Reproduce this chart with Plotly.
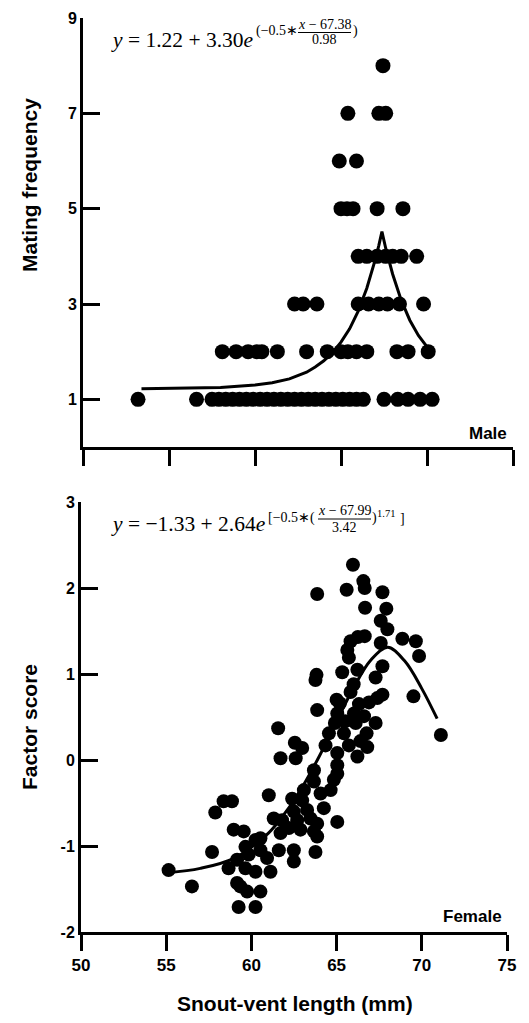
import plotly.graph_objects as go

W, H = 529, 1023
OFF = 8  # default page body margin

# ---------------- data: males (top panel) ----------------
male_svl = [
    67.44,
    65.4, 67.2, 67.6,
    64.9, 65.9,
    65.0, 65.35, 65.7, 67.1, 68.6,
    66.0, 66.5, 67.1, 67.6, 68.0, 68.5, 69.4,
    62.3, 62.8, 63.6, 66.0, 66.6, 67.2, 67.7, 68.4, 69.8,
    58.1, 58.9, 59.6, 60.1, 60.4, 61.3, 63.0, 64.2, 65.0, 65.4, 65.9, 66.5, 68.25, 68.9, 70.07,
    53.2, 56.6, 57.5, 57.9, 58.3, 58.7, 59.1, 59.5, 59.9, 60.3, 60.7, 61.1, 61.5, 61.9,
    62.3, 62.7, 63.1, 63.5, 63.9, 64.3, 64.7, 65.1, 65.5, 65.9, 66.3, 67.5, 68.3, 68.9, 69.6, 70.3,
]
male_freq = (
    [8] * 1 + [7] * 3 + [6] * 2 + [5] * 5 + [4] * 7 + [3] * 9 + [2] * 15 + [1] * 30
)

male_fit_x = [53.4, 56.0, 58.0, 60.0, 61.0, 62.0, 63.0, 63.5, 64.0, 64.5, 65.0, 65.5, 66.0, 66.5,
              66.75, 67.0, 67.2, 67.38, 67.6, 68.0, 68.5, 69.0, 69.5, 70.3]
male_fit_y = [1.22, 1.23, 1.25, 1.30, 1.35, 1.43, 1.57, 1.68, 1.81, 1.98, 2.20, 2.48, 2.85, 3.33,
              3.61, 3.94, 4.23, 4.52, 4.17, 3.63, 3.08, 2.66, 2.34, 1.96]

# ---------------- data: females (bottom panel) ----------------
female_svl = [
    65.96, 63.86, 65.59, 66.57, 66.65, 67.69, 66.67, 67.92, 67.59, 67.98,
    66.65, 66.25, 65.82, 65.63, 65.72, 67.59, 68.86, 69.65, 69.84, 67.69,
    65.33, 66.22, 67.29, 63.82, 63.76, 65.82, 67.69, 67.39, 69.51, 63.86,
    65.19, 66.31, 66.90, 65.04, 66.02, 66.61, 67.29, 64.90, 66.12, 71.12,
    61.57, 62.55, 62.98, 64.55, 65.43, 66.76, 64.35, 65.72, 66.80, 61.71,
    65.04, 66.22, 66.40, 65.50, 65.00, 66.00, 62.60,
    63.67, 65.04, 65.04, 63.67, 64.84, 64.65, 64.06, 63.08, 62.39, 62.98,
    61.02, 64.25, 63.27, 62.49, 61.31, 61.80, 63.47, 63.86, 62.69, 62.20,
    65.04, 62.88, 63.67, 61.71, 63.86, 58.37, 58.86, 57.88, 58.96, 59.55,
    60.24, 60.53, 59.65, 60.92, 60.53, 61.61, 62.49, 62.49, 63.76, 57.69,
    58.66, 59.65, 60.24, 61.12, 59.16, 59.75, 59.35, 60.53, 59.16, 59.84,
    59.25, 60.24, 55.14, 56.51,
]
female_score = [
    2.27, 1.93, 1.98, 2.08, 2.00, 1.95, 1.77, 1.76, 1.62, 1.52,
    1.44, 1.43, 1.38, 1.28, 1.19, 1.36, 1.41, 1.38, 1.21, 1.09,
    1.02, 1.05, 0.96, 0.99, 0.93, 0.79, 0.76, 0.72, 0.74, 0.58,
    0.66, 0.65, 0.67, 0.54, 0.54, 0.51, 0.43, 0.43, 0.43, 0.29,
    0.37, 0.20, 0.14, 0.31, 0.31, 0.31, 0.17, 0.17, 0.15, 0.02,
    0.08, 0.04, 0.22, 0.45, 0.70, 0.88, 0.02,
    -0.12, -0.06, -0.16, -0.25, -0.23, -0.35, -0.39, -0.35, -0.45, -0.47,
    -0.41, -0.56, -0.58, -0.60, -0.68, -0.70, -0.68, -0.74, -0.70, -0.79,
    -0.72, -0.81, -0.83, -0.85, -0.89, -0.48, -0.48, -0.61, -0.81, -0.83,
    -0.93, -0.91, -1.01, -1.14, -1.05, -1.05, -1.05, -1.18, -1.07, -1.07,
    -1.26, -1.26, -1.30, -1.30, -1.43, -1.53, -1.47, -1.53, -1.16, -1.10,
    -1.71, -1.71, -1.28, -1.47,
]

female_fit_x = [55.1, 57.0, 59.0, 61.0, 62.0, 63.0, 64.0, 65.0, 66.0, 67.0, 68.0, 69.0, 70.0, 70.9]
female_fit_y = [-1.31, -1.26, -1.14, -0.85, -0.61, -0.31, 0.05, 0.45, 0.84, 1.16, 1.31, 1.15, 0.83, 0.48]

x_ticks = [50, 55, 60, 65, 70, 75]
male_y_ticks = [1, 3, 5, 7, 9]
female_y_ticks = [-2, -1, 0, 1, 2, 3]
female_y_text = ["-2", "-1", "0", "1", "2", "3"]


def px(x):
    return (x - OFF) / W


def py(y):
    return 1 - (y - OFF) / H


fig = go.Figure()

fig.add_trace(go.Scatter(x=male_svl, y=male_freq, mode="markers", xaxis="x", yaxis="y",
                         marker=dict(color="black", size=15, line=dict(width=0)), showlegend=False))
fig.add_trace(go.Scatter(x=male_fit_x, y=male_fit_y, mode="lines", xaxis="x", yaxis="y",
                         line=dict(color="black", width=3), showlegend=False))
fig.add_trace(go.Scatter(x=female_svl, y=female_score, mode="markers", xaxis="x2", yaxis="y2",
                         marker=dict(color="black", size=14, line=dict(width=0)), showlegend=False))
fig.add_trace(go.Scatter(x=female_fit_x, y=female_fit_y, mode="lines", xaxis="x2", yaxis="y2",
                         line=dict(color="black", width=3, shape="spline"), showlegend=False))

tickfont_y = dict(family="Liberation Sans, Arial", size=16, color="black", weight="bold")
tickfont_x = dict(family="Liberation Sans, Arial", size=17, color="black", weight="bold")

common_x = dict(range=[50, 75], tickvals=x_ticks, showgrid=False, zeroline=False,
                showline=True, linecolor="black", linewidth=3, automargin=False,
                ticks="outside", ticklen=16, tickwidth=3, tickcolor="black")
common_y = dict(showgrid=False, zeroline=False, showline=True, linecolor="black", linewidth=3,
                automargin=False, ticks="inside", ticklen=17, tickwidth=3, tickcolor="black")

fig.update_layout(
    width=W, height=H,
    margin=dict(l=0, r=0, t=0, b=0, pad=0, autoexpand=False),
    paper_bgcolor="white", plot_bgcolor="white",
    xaxis=dict(domain=[px(83), px(513)], anchor="y", showticklabels=False, **common_x),
    yaxis=dict(domain=[py(447), py(18)], anchor="x", range=[0, 9], tickvals=male_y_ticks,
               tickfont=tickfont_y, **common_y),
    xaxis2=dict(domain=[px(81), px(507)], anchor="y2", tickfont=tickfont_x, **common_x),
    yaxis2=dict(domain=[py(932), py(502)], anchor="x2", range=[-2, 3], tickvals=female_y_ticks,
                ticktext=female_y_text, tickfont=tickfont_y, **common_y),
)

ann = []


def add_text(text, x, y, size, xanchor="left", family="Liberation Serif, Times New Roman", bold=False, angle=0):
    f = dict(family=family, size=size, color="black")
    if bold:
        f["weight"] = "bold"
    ann.append(dict(text=text, x=px(x), y=py(y), xref="paper", yref="paper", xanchor=xanchor,
                    yanchor="middle", showarrow=False, font=f, textangle=angle, borderpad=0))


# axis titles
add_text("Mating frequency", 29, 185, 21, xanchor="center", family="Liberation Sans, Arial", bold=True, angle=-90)
add_text("Factor score", 29, 727, 21, xanchor="center", family="Liberation Sans, Arial", bold=True, angle=-90)
add_text("Snout-vent length (mm)", 295, 1003, 21, xanchor="center", family="Liberation Sans, Arial", bold=True)
# panel labels
add_text("Male", 508, 433, 17, xanchor="right", family="Liberation Sans, Arial", bold=True)
add_text("Female", 503, 916, 17, xanchor="right", family="Liberation Sans, Arial", bold=True)

# equation, male
add_text("<i>y</i> = 1.22 + 3.30<i>e</i>", 110, 40, 21.5)
add_text("(−0.5∗", 255, 31, 14)
add_text("<i>x</i> − 67.38", 324.5, 25, 14, xanchor="center")
add_text("0.98", 324.5, 40, 14, xanchor="center")
add_text(")", 352, 31, 14)
# equation, female
add_text("<i>y</i> = −1.33 + 2.64<i>e</i>", 110, 524, 21.5)
add_text("[−0.5∗(", 267, 518, 14)
add_text("<i>x</i> − 67.99", 344.5, 510, 14, xanchor="center")
add_text("3.42", 344.5, 527, 14, xanchor="center")
add_text(")", 371, 518, 14)
add_text("1.71", 376, 513, 10.5)
add_text("]", 399, 518, 14)

fig.update_layout(annotations=ann)

fig.add_shape(type="line", xref="paper", yref="paper", x0=px(298), x1=px(351), y0=py(32.5), y1=py(32.5),
              line=dict(color="black", width=1))
fig.add_shape(type="line", xref="paper", yref="paper", x0=px(318), x1=px(371), y0=py(519), y1=py(519),
              line=dict(color="black", width=1))

fig.write_html("out.html")
